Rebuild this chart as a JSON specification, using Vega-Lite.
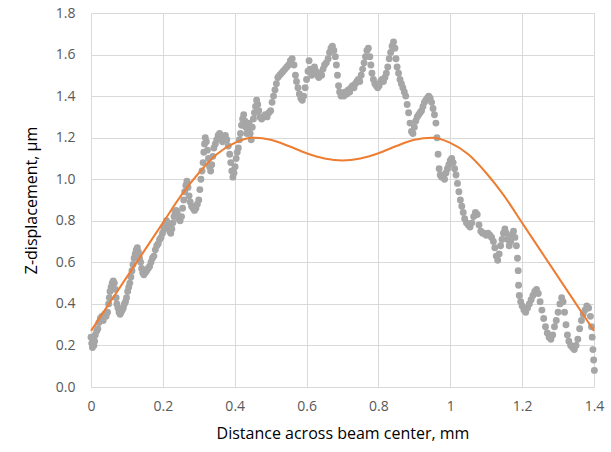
{
  "$schema": "https://vega.github.io/schema/vega-lite/v6.json",
  "autosize": {"type": "none"},
  "width": 503,
  "height": 374,
  "padding": {"left": 91, "top": 13, "right": 17, "bottom": 65},
  "background": "white",
  "config": {
    "view": {"stroke": null},
    "font": "Open Sans",
    "axis": {
      "grid": true,
      "gridColor": "#d9d9d9",
      "gridWidth": 1,
      "domain": false,
      "ticks": false,
      "labelFont": "Open Sans",
      "labelFontSize": 14,
      "labelColor": "#595959",
      "titleFont": "Open Sans",
      "titleFontSize": 16,
      "titleFontWeight": "normal",
      "titleColor": "#000000"
    }
  },
  "datasets": {
    "pts": [
      {"x":0.000,"y":0.24},{"x":0.002,"y":0.21},{"x":0.004,"y":0.19},{"x":0.006,"y":0.23},{"x":0.008,"y":0.20},{"x":0.010,"y":0.22},{"x":0.012,"y":0.25},
      {"x":0.016,"y":0.27},{"x":0.019,"y":0.28},{"x":0.022,"y":0.31},{"x":0.026,"y":0.33},{"x":0.030,"y":0.34},{"x":0.034,"y":0.32},{"x":0.038,"y":0.35},{"x":0.042,"y":0.34},{"x":0.046,"y":0.36},
      {"x":0.049,"y":0.40},{"x":0.051,"y":0.43},{"x":0.053,"y":0.46},{"x":0.056,"y":0.48},{"x":0.059,"y":0.50},{"x":0.062,"y":0.51},{"x":0.065,"y":0.50},{"x":0.068,"y":0.47},
      {"x":0.070,"y":0.43},{"x":0.072,"y":0.40},{"x":0.075,"y":0.38},{"x":0.078,"y":0.36},{"x":0.081,"y":0.35},{"x":0.084,"y":0.36},{"x":0.087,"y":0.37},{"x":0.090,"y":0.38},{"x":0.093,"y":0.40},{"x":0.096,"y":0.41},
      {"x":0.099,"y":0.43},{"x":0.102,"y":0.46},{"x":0.105,"y":0.48},{"x":0.108,"y":0.50},{"x":0.111,"y":0.53},{"x":0.114,"y":0.56},{"x":0.117,"y":0.59},{"x":0.120,"y":0.62},{"x":0.123,"y":0.64},{"x":0.126,"y":0.66},{"x":0.129,"y":0.67},{"x":0.132,"y":0.65},{"x":0.135,"y":0.62},
      {"x":0.138,"y":0.60},{"x":0.141,"y":0.57},{"x":0.144,"y":0.55},{"x":0.147,"y":0.54},{"x":0.151,"y":0.55},{"x":0.155,"y":0.56},{"x":0.159,"y":0.57},{"x":0.163,"y":0.58},{"x":0.167,"y":0.60},{"x":0.171,"y":0.62},{"x":0.175,"y":0.63},{"x":0.179,"y":0.66},{"x":0.183,"y":0.68},{"x":0.187,"y":0.69},{"x":0.191,"y":0.71},{"x":0.195,"y":0.72},{"x":0.199,"y":0.74},{"x":0.203,"y":0.76},{"x":0.207,"y":0.78},{"x":0.210,"y":0.80},{"x":0.213,"y":0.79},{"x":0.216,"y":0.77},{"x":0.219,"y":0.75},{"x":0.222,"y":0.74},{"x":0.225,"y":0.76},{"x":0.228,"y":0.79},{"x":0.231,"y":0.82},{"x":0.234,"y":0.84},{"x":0.237,"y":0.85},{"x":0.240,"y":0.84},{"x":0.244,"y":0.81},{"x":0.248,"y":0.80},{"x":0.252,"y":0.82},{"x":0.255,"y":0.86},
      {"x":0.258,"y":0.90},{"x":0.261,"y":0.94},{"x":0.264,"y":0.97},{"x":0.267,"y":0.99},{"x":0.270,"y":0.96},{"x":0.273,"y":0.92},{"x":0.276,"y":0.89},{"x":0.280,"y":0.87},{"x":0.284,"y":0.86},{"x":0.288,"y":0.85},{"x":0.292,"y":0.86},{"x":0.296,"y":0.88},{"x":0.300,"y":0.90},{"x":0.303,"y":0.95},{"x":0.306,"y":1.00},{"x":0.309,"y":1.04},{"x":0.312,"y":1.08},{"x":0.314,"y":1.13},{"x":0.316,"y":1.17},{"x":0.318,"y":1.20},{"x":0.321,"y":1.18},{"x":0.324,"y":1.14},{"x":0.327,"y":1.10},{"x":0.330,"y":1.06},{"x":0.333,"y":1.04},{"x":0.336,"y":1.07},{"x":0.339,"y":1.11},{"x":0.342,"y":1.15},{"x":0.346,"y":1.17},{"x":0.350,"y":1.19},{"x":0.354,"y":1.21},{"x":0.358,"y":1.22},{"x":0.362,"y":1.20},{"x":0.366,"y":1.18},{"x":0.370,"y":1.19},{"x":0.374,"y":1.21},{"x":0.378,"y":1.19},{"x":0.382,"y":1.16},{"x":0.386,"y":1.12},{"x":0.389,"y":1.08},{"x":0.392,"y":1.04},{"x":0.395,"y":1.01},{"x":0.398,"y":1.03},{"x":0.401,"y":1.06},{"x":0.404,"y":1.10},{"x":0.407,"y":1.13},{"x":0.410,"y":1.15},{"x":0.413,"y":1.19},{"x":0.416,"y":1.22},{"x":0.419,"y":1.26},{"x":0.422,"y":1.29},{"x":0.425,"y":1.31},{"x":0.428,"y":1.28},{"x":0.431,"y":1.25},{"x":0.434,"y":1.22},{"x":0.437,"y":1.24},{"x":0.440,"y":1.27},{"x":0.443,"y":1.22},{"x":0.446,"y":1.19},{"x":0.449,"y":1.25},{"x":0.452,"y":1.29},{"x":0.455,"y":1.32},{"x":0.458,"y":1.35},{"x":0.461,"y":1.38},{"x":0.464,"y":1.36},{"x":0.467,"y":1.33},
      {"x":0.470,"y":1.30},{"x":0.475,"y":1.29},{"x":0.480,"y":1.30},{"x":0.485,"y":1.31},{"x":0.490,"y":1.30},{"x":0.495,"y":1.32},{"x":0.500,"y":1.33},{"x":0.504,"y":1.37},{"x":0.508,"y":1.40},{"x":0.512,"y":1.43},{"x":0.516,"y":1.46},{"x":0.520,"y":1.49},{"x":0.525,"y":1.50},{"x":0.530,"y":1.51},{"x":0.535,"y":1.52},{"x":0.540,"y":1.53},{"x":0.545,"y":1.54},{"x":0.550,"y":1.55},{"x":0.555,"y":1.57},{"x":0.560,"y":1.58},{"x":0.565,"y":1.55},{"x":0.569,"y":1.50},{"x":0.572,"y":1.47},{"x":0.576,"y":1.44},{"x":0.580,"y":1.41},{"x":0.584,"y":1.39},{"x":0.588,"y":1.38},{"x":0.592,"y":1.40},{"x":0.596,"y":1.44},{"x":0.600,"y":1.48},{"x":0.604,"y":1.52},{"x":0.607,"y":1.57},{"x":0.610,"y":1.53},{"x":0.614,"y":1.50},{"x":0.618,"y":1.52},{"x":0.622,"y":1.54},{"x":0.626,"y":1.52},{"x":0.630,"y":1.50},{"x":0.634,"y":1.49},{"x":0.638,"y":1.51},{"x":0.642,"y":1.50},{"x":0.646,"y":1.53},{"x":0.650,"y":1.55},{"x":0.655,"y":1.56},{"x":0.660,"y":1.58},{"x":0.664,"y":1.61},{"x":0.668,"y":1.63},{"x":0.672,"y":1.64},{"x":0.676,"y":1.62},{"x":0.680,"y":1.59},{"x":0.683,"y":1.55},{"x":0.686,"y":1.50},{"x":0.689,"y":1.45},{"x":0.692,"y":1.42},{"x":0.696,"y":1.40},{"x":0.700,"y":1.41},
      {"x":0.704,"y":1.40},{"x":0.708,"y":1.42},{"x":0.712,"y":1.41},{"x":0.716,"y":1.43},{"x":0.720,"y":1.42},{"x":0.724,"y":1.44},{"x":0.728,"y":1.45},{"x":0.732,"y":1.44},{"x":0.736,"y":1.46},{"x":0.740,"y":1.47},{"x":0.744,"y":1.48},{"x":0.748,"y":1.47},{"x":0.752,"y":1.50},{"x":0.756,"y":1.53},{"x":0.760,"y":1.56},{"x":0.764,"y":1.59},{"x":0.768,"y":1.62},{"x":0.772,"y":1.63},{"x":0.776,"y":1.59},{"x":0.779,"y":1.55},{"x":0.782,"y":1.51},{"x":0.786,"y":1.48},{"x":0.790,"y":1.46},{"x":0.794,"y":1.45},{"x":0.798,"y":1.44},{"x":0.802,"y":1.45},{"x":0.806,"y":1.47},{"x":0.810,"y":1.48},{"x":0.814,"y":1.47},{"x":0.818,"y":1.49},{"x":0.822,"y":1.51},{"x":0.826,"y":1.54},{"x":0.830,"y":1.58},{"x":0.834,"y":1.61},{"x":0.838,"y":1.64},{"x":0.842,"y":1.66},{"x":0.846,"y":1.63},{"x":0.849,"y":1.58},{"x":0.852,"y":1.54},{"x":0.856,"y":1.51},{"x":0.860,"y":1.48},{"x":0.864,"y":1.46},{"x":0.868,"y":1.44},{"x":0.872,"y":1.42},{"x":0.876,"y":1.40},{"x":0.880,"y":1.36},{"x":0.884,"y":1.32},{"x":0.888,"y":1.27},{"x":0.892,"y":1.23},{"x":0.896,"y":1.22},{"x":0.900,"y":1.25},{"x":0.904,"y":1.28},{"x":0.908,"y":1.30},{"x":0.912,"y":1.31},{"x":0.916,"y":1.32},{"x":0.920,"y":1.33},{"x":0.924,"y":1.35},{"x":0.928,"y":1.37},{"x":0.932,"y":1.38},{"x":0.936,"y":1.39},{"x":0.940,"y":1.40},{"x":0.944,"y":1.39},{"x":0.948,"y":1.37},{"x":0.952,"y":1.34},{"x":0.956,"y":1.31},{"x":0.960,"y":1.27},{"x":0.963,"y":1.20},
      {"x":0.966,"y":1.12},{"x":0.969,"y":1.05},{"x":0.972,"y":1.02},{"x":0.976,"y":1.01},{"x":0.980,"y":1.02},{"x":0.984,"y":1.00},{"x":0.988,"y":1.03},{"x":0.992,"y":1.05},{"x":0.996,"y":1.07},{"x":1.000,"y":1.09},{"x":1.004,"y":1.10},{"x":1.008,"y":1.08},{"x":1.012,"y":1.05},{"x":1.016,"y":1.02},{"x":1.020,"y":0.98},{"x":1.024,"y":0.94},{"x":1.028,"y":0.90},{"x":1.032,"y":0.87},{"x":1.036,"y":0.84},{"x":1.040,"y":0.81},{"x":1.045,"y":0.79},{"x":1.050,"y":0.78},{"x":1.055,"y":0.77},{"x":1.060,"y":0.79},{"x":1.065,"y":0.82},{"x":1.070,"y":0.84},{"x":1.075,"y":0.83},{"x":1.080,"y":0.78},{"x":1.085,"y":0.75},{"x":1.090,"y":0.74},{"x":1.095,"y":0.74},{"x":1.100,"y":0.73},{"x":1.105,"y":0.74},{"x":1.110,"y":0.73},{"x":1.115,"y":0.72},{"x":1.120,"y":0.70},{"x":1.124,"y":0.67},{"x":1.128,"y":0.63},{"x":1.132,"y":0.61},{"x":1.136,"y":0.64},{"x":1.140,"y":0.68},{"x":1.144,"y":0.71},{"x":1.148,"y":0.74},{"x":1.152,"y":0.76},{"x":1.156,"y":0.74},{"x":1.160,"y":0.71},{"x":1.164,"y":0.68},{"x":1.168,"y":0.70},{"x":1.172,"y":0.73},{"x":1.176,"y":0.75},{"x":1.180,"y":0.72},{"x":1.184,"y":0.68},{"x":1.187,"y":0.62},{"x":1.189,"y":0.56},{"x":1.190,"y":0.49},{"x":1.192,"y":0.44},
      {"x":1.196,"y":0.41},{"x":1.200,"y":0.39},{"x":1.205,"y":0.37},{"x":1.210,"y":0.36},{"x":1.215,"y":0.38},{"x":1.220,"y":0.40},{"x":1.225,"y":0.42},{"x":1.230,"y":0.44},{"x":1.235,"y":0.46},{"x":1.240,"y":0.47},{"x":1.245,"y":0.45},{"x":1.250,"y":0.41},{"x":1.255,"y":0.37},{"x":1.260,"y":0.33},{"x":1.265,"y":0.29},{"x":1.270,"y":0.26},{"x":1.275,"y":0.24},{"x":1.280,"y":0.23},{"x":1.285,"y":0.25},{"x":1.290,"y":0.29},{"x":1.295,"y":0.32},{"x":1.300,"y":0.36},{"x":1.305,"y":0.40},{"x":1.310,"y":0.43},{"x":1.314,"y":0.41},{"x":1.318,"y":0.36},{"x":1.322,"y":0.30},{"x":1.326,"y":0.25},{"x":1.330,"y":0.22},{"x":1.335,"y":0.20},{"x":1.340,"y":0.19},{"x":1.345,"y":0.18},{"x":1.350,"y":0.20},{"x":1.355,"y":0.23},{"x":1.360,"y":0.28},{"x":1.365,"y":0.32},{"x":1.370,"y":0.35},{"x":1.375,"y":0.37},{"x":1.380,"y":0.39},{"x":1.385,"y":0.38},{"x":1.390,"y":0.34},{"x":1.393,"y":0.29},{"x":1.395,"y":0.24},{"x":1.397,"y":0.18},{"x":1.399,"y":0.13},{"x":1.401,"y":0.08}
    ],
    "fit": [
      {"x":0.00,"y":0.27},{"x":0.05,"y":0.40},{"x":0.10,"y":0.53},{"x":0.15,"y":0.66},{"x":0.20,"y":0.79},{"x":0.25,"y":0.92},{"x":0.30,"y":1.03},{"x":0.35,"y":1.12},{"x":0.40,"y":1.175},{"x":0.45,"y":1.20},{"x":0.50,"y":1.19},{"x":0.55,"y":1.16},{"x":0.60,"y":1.125},{"x":0.65,"y":1.10},{"x":0.70,"y":1.09},
      {"x":0.75,"y":1.10},{"x":0.80,"y":1.125},{"x":0.85,"y":1.16},{"x":0.90,"y":1.19},{"x":0.95,"y":1.20},{"x":1.00,"y":1.175},{"x":1.05,"y":1.12},{"x":1.10,"y":1.03},{"x":1.15,"y":0.92},{"x":1.20,"y":0.79},{"x":1.25,"y":0.66},{"x":1.30,"y":0.53},{"x":1.35,"y":0.40},{"x":1.40,"y":0.27}
    ]
  },
  "layer": [
    {
      "data": {"name": "pts"},
      "mark": {"type": "circle", "size": 48, "color": "#a6a6a6", "opacity": 1},
      "encoding": {
        "x": {
          "field": "x", "type": "quantitative",
          "scale": {"domain": [0, 1.4], "nice": false, "zero": false},
          "axis": {"values": [0, 0.2, 0.4, 0.6, 0.8, 1, 1.2, 1.4], "format": ".1~f", "labelPadding": 12, "titlePadding": 12, "title": "Distance across beam center, mm", "labelFlush": false}
        },
        "y": {
          "field": "y", "type": "quantitative",
          "scale": {"domain": [0, 1.8], "nice": false},
          "axis": {"values": [0, 0.2, 0.4, 0.6, 0.8, 1, 1.2, 1.4, 1.6, 1.8], "format": ".1f", "labelPadding": 16, "titlePadding": 16, "title": "Z-displacement, µm", "labelFlush": false}
        }
      }
    },
    {
      "data": {"name": "fit"},
      "mark": {"type": "line", "color": "#ed7d31", "strokeWidth": 2, "interpolate": "monotone"},
      "encoding": {
        "x": {"field": "x", "type": "quantitative"},
        "y": {"field": "y", "type": "quantitative"}
      }
    }
  ]
}
